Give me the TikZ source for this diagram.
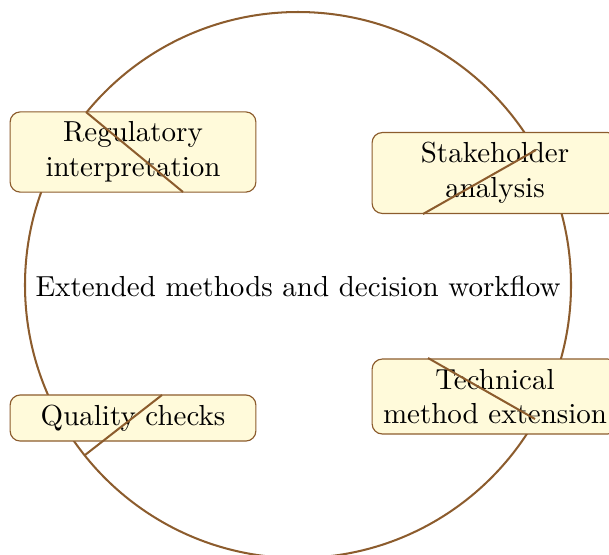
\documentclass[tikz,border=0pt]{standalone}
\usetikzlibrary{calc}
\definecolor{ringc}{RGB}{140,92,45}
\definecolor{boxfill}{RGB}{255,250,218}
\tikzset{
  box/.style={draw=ringc, line width=0.4pt, fill=boxfill, rounded corners=3.5pt,
    align=center, minimum width=84.8pt, inner sep=3.4pt, font=\normalsize},
  ring/.style={draw=ringc, line width=0.7pt},
  stroke/.style={draw=ringc, line width=0.7pt}
}
\begin{document}
\begin{tikzpicture}[x=0.345pt, y=-0.345pt]
\useasboundingbox (0,0) rectangle (609,554);
\clip (0,0) rectangle (609,554);
\coordinate (ctr) at (298,285);
\draw[ring] (ctr) circle[radius=273*0.345pt];
\node (mid) at (298,286) {Extended methods and decision workflow};
\node[box] (reg) at (133,152) {Regulatory\\interpretation};
\node[box] (stake) at (495,173) {Stakeholder\\analysis};
\node[box] (tech) at (495,396.5) {Technical\\method extension};
\node[box] (qual) at (133,418) {Quality checks};
\coordinate (a1) at (86,112);  \coordinate (a2) at (183,192);
\coordinate (b1) at (423,214); \coordinate (b2) at (536,150);
\coordinate (c1) at (428,358); \coordinate (c2) at (535,419);
\coordinate (d1) at (162,395); \coordinate (d2) at (85,455);
\draw[stroke] (a1) -- (a2);
\draw[stroke] (b1) -- (b2);
\draw[stroke] (c1) -- (c2);
\draw[stroke] (d1) -- (d2);
\end{tikzpicture}
\end{document}
